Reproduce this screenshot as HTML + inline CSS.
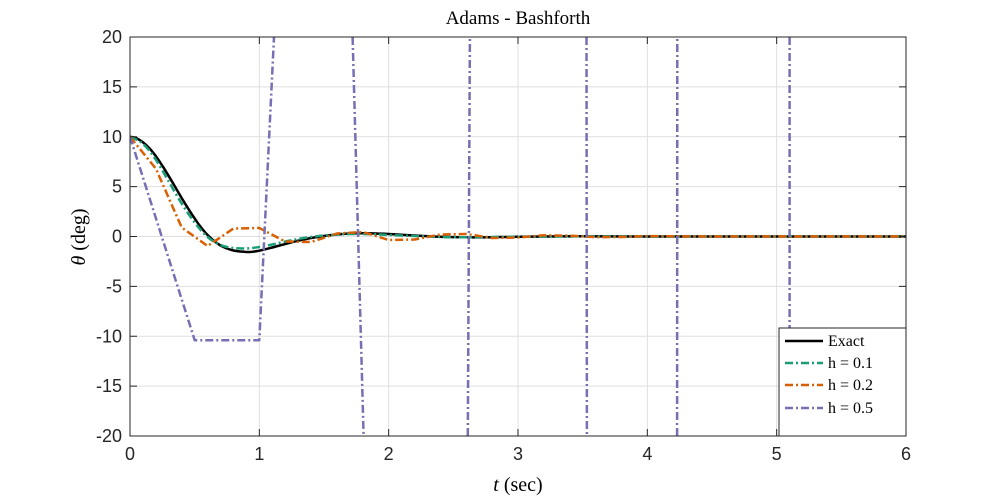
<!DOCTYPE html>
<html><head><meta charset="utf-8"><style>
html,body{margin:0;padding:0;background:#fff;overflow:hidden;width:1000px;height:500px}
svg{display:block}
svg text{font-family:"Liberation Sans",sans-serif}
.serif{font-family:"Liberation Serif",serif}
</style></head><body>
<svg id="chart" width="1000" height="500" style="position:absolute;left:0;top:0" xmlns="http://www.w3.org/2000/svg">
<rect width="1000" height="500" fill="#fff"/>
<defs><clipPath id="clip"><rect x="130" y="37" width="776" height="399"/></clipPath></defs>
<g id="grid"></g><g id="lines" clip-path="url(#clip)"></g><g id="axes"></g>
</svg>
<script>
const xTicks=[0,1,2,3,4,5,6];
const yTicks=[20,15,10,5,0,-5,-10,-15,-20];
const tExact=[0,0.05,0.1,0.15,0.2,0.25,0.3,0.35,0.4,0.45,0.5,0.55,0.6,0.65,0.7,0.75,0.8,0.85,0.9,0.95,1.0,1.1,1.2,1.3,1.4,1.5,1.6,1.7,1.8,1.9,2.0,2.2,2.4,2.6,2.8,3.0,3.5,4,5,6];
const yExact=[10,9.85,9.45,8.85,8.05,7.1,6.05,4.95,3.85,2.8,1.8,0.9,0.15,-0.45,-0.9,-1.2,-1.4,-1.5,-1.55,-1.52,-1.42,-1.1,-0.75,-0.42,-0.15,0.05,0.2,0.3,0.32,0.3,0.25,0.1,-0.03,-0.08,-0.07,-0.03,0.02,0,0,0];
const tH1=[0,0.1,0.2,0.3,0.4,0.5,0.6,0.7,0.8,0.9,1.0,1.1,1.2,1.3,1.4,1.5,1.6,1.7,1.8,1.9,2.0,2.2,2.4,2.6,2.8,3.0,3.5,4,5,6];
const yH1=[10,9.3,7.7,5.5,3.3,1.4,-0.05,-0.85,-1.15,-1.2,-1.05,-0.8,-0.5,-0.25,-0.05,0.1,0.2,0.25,0.25,0.22,0.15,0.05,-0.05,-0.08,-0.05,-0.02,0.02,0,0,0];
const tH2=[0,0.2,0.4,0.6,0.8,1.0,1.2,1.4,1.6,1.8,2.0,2.2,2.4,2.6,2.8,3.0,3.2,3.4,3.6,3.8,4.0,4.5,5,6];
const yH2=[10,6.8,0.9,-0.95,0.8,0.85,-0.5,-0.55,0.3,0.45,-0.35,-0.3,0.2,0.25,-0.15,-0.1,0.12,0.08,-0.06,-0.05,0.04,0,0,0];
const tH5=[0,0.5,1.0,1.5,2.0,2.5,3.0,3.5,4.0,4.5,5.0,5.5,6.0];
const yH5=[10,-10.4,-10.4,124,-111,-300,950,400,-6000,7000,20000,-80000,-90000];
const X0=130,X1=906,Y0=436,Y1=37,YMIN=-20,YMAX=20;
const sx=t=>X0+(t-0)/6*(X1-X0);
const sy=v=>Y0-(v-YMIN)/(YMAX-YMIN)*(Y0-Y1);
const NS="http://www.w3.org/2000/svg";
function mk(tag,attrs,parent){const e=document.createElementNS(NS,tag);for(const k in attrs)e.setAttribute(k,attrs[k]);parent.appendChild(e);return e;}
const grid=document.getElementById('grid'),lines=document.getElementById('lines'),axes=document.getElementById('axes');
xTicks.forEach(t=>{const l=mk('line',{x1:sx(t),x2:sx(t),y1:Y1,y2:Y0,stroke:'#dfdfdf','stroke-width':1},grid);

});
yTicks.forEach(v=>{const l=mk('line',{x1:X0,x2:X1,y1:sy(v),y2:sy(v),stroke:'#dfdfdf','stroke-width':1},grid);

});
function clipPathD(ts,vs){
let d='',pen=false;
for(let i=0;i<ts.length-1;i++){
let t0=ts[i],v0=vs[i],t1=ts[i+1],v1=vs[i+1];
let a=0,b=1;const dv=v1-v0;
if(dv!==0){let ua=(YMIN-v0)/dv,ub=(YMAX-v0)/dv;if(ua>ub){const tmp=ua;ua=ub;ub=tmp;}a=Math.max(a,ua);b=Math.min(b,ub);}
else if(v0<YMIN||v0>YMAX){pen=false;continue;}
if(a>b){pen=false;continue;}
const ta=t0+(t1-t0)*a,va=v0+dv*a,tb=t0+(t1-t0)*b,vb=v0+dv*b;
if(!pen||a>0)d+='M'+sx(ta).toFixed(1)+','+sy(va).toFixed(1);
d+='L'+sx(tb).toFixed(1)+','+sy(vb).toFixed(1);
pen=(b===1);}
return d;}
function series(ts,vs,color,dash,w,name,smooth){
let d;
if(smooth){const P=ts.map((t,i)=>[sx(t),sy(vs[i])]);d='M'+P[0][0]+','+P[0][1];
for(let i=0;i<P.length-1;i++){const p0=P[Math.max(0,i-1)],p1=P[i],p2=P[i+1],p3=P[Math.min(P.length-1,i+2)];
d+='C'+(p1[0]+(p2[0]-p0[0])/6).toFixed(1)+','+(p1[1]+(p2[1]-p0[1])/6).toFixed(1)+' '+(p2[0]-(p3[0]-p1[0])/6).toFixed(1)+','+(p2[1]-(p3[1]-p1[1])/6).toFixed(1)+' '+p2[0].toFixed(1)+','+p2[1].toFixed(1);}}
else d=clipPathD(ts,vs);
const p=mk('path',{d:d,fill:'none',stroke:color,'stroke-width':w,'stroke-dasharray':dash,'stroke-linejoin':'round'},lines);

}
series(tExact,yExact,'#000','',2.5,'series-exact',true);
series(tH1,yH1,'#1b9e77','8,3,2,3',2.5,'series-h-0.1',true);
series(tH2,yH2,'#d95f02','8,3,2,3',2.5,'series-h-0.2',false);
series(tH5,yH5,'#7570b3','8,3,2,3',2.5,'series-h-0.5',false);
const box=mk('rect',{x:X0,y:Y1,width:X1-X0,height:Y0-Y1,fill:'none',stroke:'#262626','stroke-width':1},axes);


xTicks.forEach(t=>{mk('line',{x1:sx(t),x2:sx(t),y1:Y0,y2:Y0-7,stroke:'#262626'},axes);mk('line',{x1:sx(t),x2:sx(t),y1:Y1,y2:Y1+7,stroke:'#262626'},axes);
const tx=mk('text',{x:sx(t),y:Y0+24,'text-anchor':'middle','font-size':18,fill:'#262626'},axes);tx.textContent=t;

});
yTicks.forEach(v=>{mk('line',{x1:X0,x2:X0+7,y1:sy(v),y2:sy(v),stroke:'#262626'},axes);mk('line',{x1:X1,x2:X1-7,y1:sy(v),y2:sy(v),stroke:'#262626'},axes);
const tx=mk('text',{x:X0-8,y:sy(v)+6,'text-anchor':'end','font-size':18,fill:'#262626'},axes);tx.textContent=v;

});
</script>
<svg width="1000" height="500" style="position:absolute;left:0;top:0" xmlns="http://www.w3.org/2000/svg">
<text class="serif" x="518" y="24" text-anchor="middle" font-size="19">Adams - Bashforth</text>
<text class="serif" x="518" y="491" text-anchor="middle" font-size="20"><tspan font-style="italic">t</tspan> (sec)</text>
<text class="serif" transform="translate(85,237) rotate(-90)" text-anchor="middle" font-size="20"><tspan font-style="italic">θ</tspan> (deg)</text>
<g>
<rect x="779" y="328" width="127" height="108" fill="#fff" stroke="#262626" stroke-width="1"/>
<g><line x1="785" x2="823" y1="341" y2="341" stroke="#000" stroke-width="2.5"/><text class="serif" x="828" y="346" font-size="16">Exact</text></g>
<g><line x1="785" x2="823" y1="363" y2="363" stroke="#1b9e77" stroke-width="2.5" stroke-dasharray="8,3,2,3"/><text class="serif" x="828" y="368" font-size="16">h = 0.1</text></g>
<g><line x1="785" x2="823" y1="385" y2="385" stroke="#d95f02" stroke-width="2.5" stroke-dasharray="8,3,2,3"/><text class="serif" x="828" y="390" font-size="16">h = 0.2</text></g>
<g><line x1="785" x2="823" y1="408" y2="408" stroke="#7570b3" stroke-width="2.5" stroke-dasharray="8,3,2,3"/><text class="serif" x="828" y="413" font-size="16">h = 0.5</text></g>
</g>
</svg>
</body></html>
